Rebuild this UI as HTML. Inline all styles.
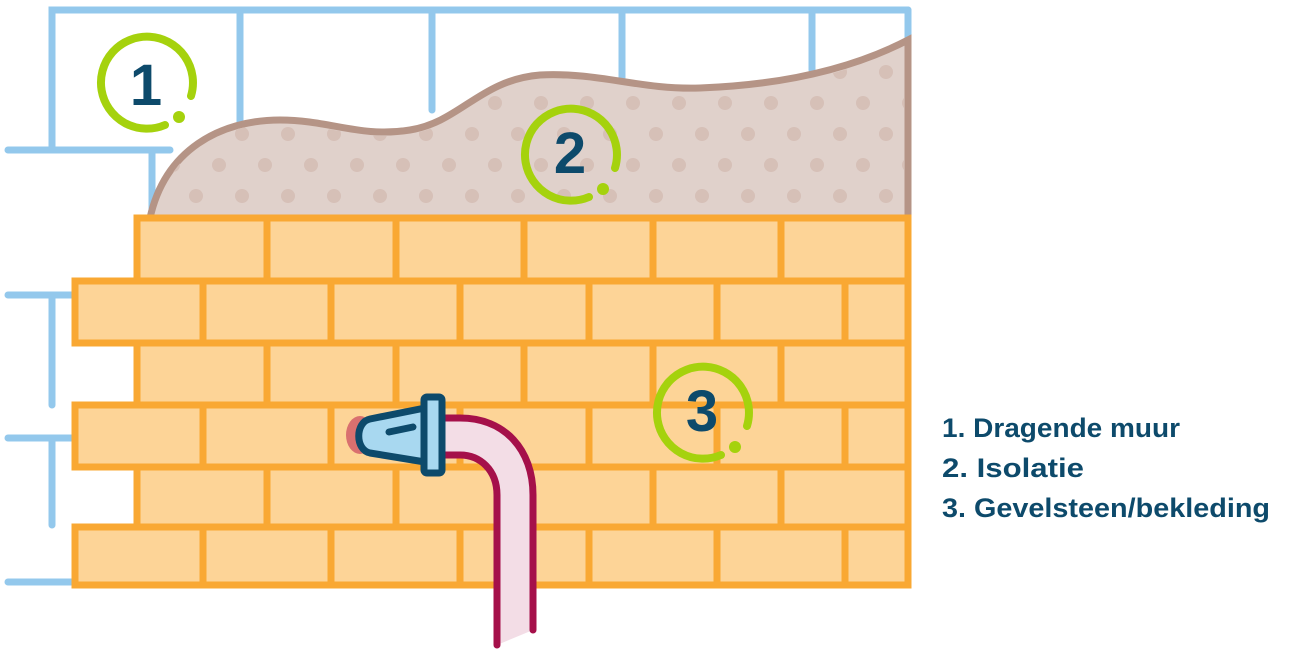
<!DOCTYPE html>
<html><head><style>
html,body{margin:0;padding:0;background:#fff;}
svg{display:block;}
</style></head><body>
<svg width="1300" height="653" viewBox="0 0 1300 653" xmlns="http://www.w3.org/2000/svg">
<defs>
<pattern id="dots" x="0" y="0" width="46" height="62" patternUnits="userSpaceOnUse">
<circle cx="12" cy="10" r="7" fill="#d6c0b7"/>
<circle cx="35" cy="41" r="7" fill="#d6c0b7"/>
</pattern>
</defs>
<!-- blue wall -->
<g stroke="#93c8ec" stroke-width="7" stroke-linecap="round" fill="none">
<path d="M52,150 V10 H908"/>
<line x1="8" y1="150" x2="170" y2="150"/>
<line x1="240" y1="10" x2="240" y2="150"/>
<line x1="432" y1="10" x2="432" y2="110"/>
<line x1="622" y1="10" x2="622" y2="90"/>
<line x1="812" y1="10" x2="812" y2="70"/>
<line x1="908" y1="10" x2="908" y2="45"/>
<line x1="152" y1="150" x2="152" y2="218"/>
<line x1="8" y1="295" x2="75" y2="295"/>
<line x1="52" y1="295" x2="52" y2="405"/>
<line x1="8" y1="438" x2="75" y2="438"/>
<line x1="52" y1="438" x2="52" y2="525"/>
<line x1="8" y1="582" x2="75" y2="582"/>
</g>
<!-- insulation -->
<path d="M150,218 C165,150 220,120 280,120 C330,120 360,138 410,130 C460,122 480,80 540,75 C600,72 640,90 700,88 C780,85 850,70 908,40 V218 Z" fill="#e0d1cb" stroke="#b59486" stroke-width="7"/>
<path d="M156,214 C170,150 220,124 280,124 C330,124 360,142 410,134 C460,126 480,84 540,79 C600,76 640,94 700,92 C780,89 850,74 904,46 V214 Z" fill="url(#dots)"/>
<!-- bricks -->
<g fill="#fdd497" stroke="#f9a833" stroke-width="7">
<rect x="137" y="218" width="771" height="63"/>
<rect x="75" y="281" width="833" height="62"/>
<rect x="137" y="343" width="771" height="62"/>
<rect x="75" y="405" width="833" height="62"/>
<rect x="137" y="467" width="771" height="60"/>
<rect x="75" y="527" width="833" height="58"/>
</g>
<g stroke="#f9a833" stroke-width="7">
<path d="M267,218V281 M396,218V281 M524,218V281 M653,218V281 M781,218V281"/>
<path d="M203,281V343 M331,281V343 M460,281V343 M589,281V343 M717,281V343 M845,281V343"/>
<path d="M267,343V405 M396,343V405 M524,343V405 M653,343V405 M781,343V405"/>
<path d="M203,405V467 M331,405V467 M460,405V467 M589,405V467 M717,405V467 M845,405V467"/>
<path d="M267,467V527 M396,467V527 M524,467V527 M653,467V527 M781,467V527"/>
<path d="M203,527V585 M331,527V585 M460,527V585 M589,527V585 M717,527V585 M845,527V585"/>
</g>
<!-- pipe -->
<path d="M445,418 H460 C505,418 533,450 533,495 V630 L497,645 V495 C497,470 480,455 460,455 H445 Z" fill="#f3dde6"/>
<g stroke="#a5104a" stroke-width="7" fill="none" stroke-linecap="round">
<path d="M445,418 H460 C505,418 533,450 533,495 V630"/>
<path d="M445,455 H460 C480,455 497,470 497,495 V645"/>
</g>
<!-- nozzle -->
<ellipse cx="360" cy="435" rx="14" ry="19" fill="#d9706f"/>
<path d="M425,408 L370,419 C355,422 355,450 370,453 L425,462 Z" fill="#a8d8f0" stroke="#0d4a6b" stroke-width="7" stroke-linejoin="round"/>
<line x1="389" y1="432" x2="413" y2="427" stroke="#0d4a6b" stroke-width="7" stroke-linecap="round"/>
<rect x="424" y="397" width="18" height="76" rx="3" fill="#a8d8f0" stroke="#0d4a6b" stroke-width="7"/>
<!-- markers -->
<g fill="none" stroke="#a5d20d" stroke-width="8" stroke-linecap="round">
<path d="M165,125 A46,46 0 1 1 191,96"/>
<path d="M589,197 A46,46 0 1 1 615,168"/>
<path d="M721,455 A46,46 0 1 1 747,426"/>
</g>
<g fill="#a5d20d">
<circle cx="179" cy="117" r="6"/>
<circle cx="603" cy="189" r="6"/>
<circle cx="735" cy="447" r="6"/>
</g>
<g font-family="Liberation Sans, sans-serif" font-weight="bold" font-size="58" fill="#0d4a6b" text-anchor="middle">
<text x="146" y="105">1</text>
<text x="570" y="173">2</text>
<text x="702" y="431">3</text>
</g>
<g font-family="Liberation Sans, sans-serif" font-weight="bold" font-size="27" fill="#0d4a6b">
<text x="942" y="437" textLength="238" lengthAdjust="spacingAndGlyphs">1. Dragende muur</text>
<text x="942" y="477" textLength="142" lengthAdjust="spacingAndGlyphs">2. Isolatie</text>
<text x="942" y="517" textLength="328" lengthAdjust="spacingAndGlyphs">3. Gevelsteen/bekleding</text>
</g>
</svg>
</body></html>
